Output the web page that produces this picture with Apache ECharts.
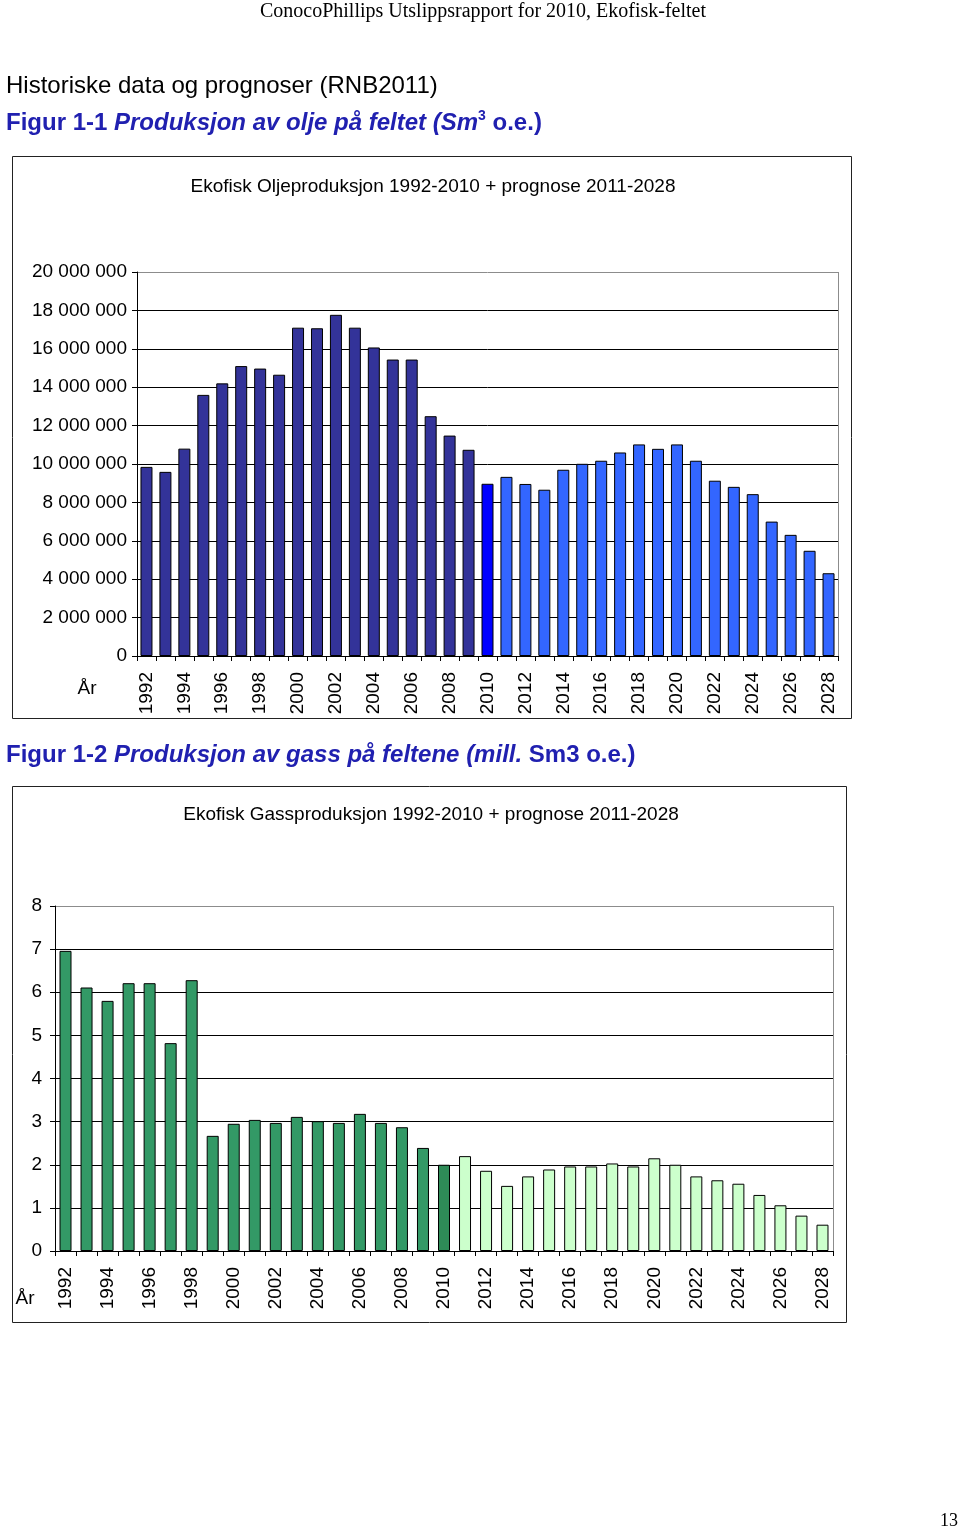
<!DOCTYPE html>
<html>
<head>
<meta charset="utf-8">
<script src="https://cdn.jsdelivr.net/npm/echarts@6/dist/echarts.min.js"></script>
<style>
html,body{margin:0;padding:0;background:#fff;}
#c{width:960px;height:1530px;}
</style>
</head>
<body>
<div id="c"></div>
<script>
// ---- data ----
const years = ['1992','1993','1994','1995','1996','1997','1998','1999','2000','2001','2002','2003','2004','2005','2006','2007','2008','2009','2010',
  '2011','2012','2013','2014','2015','2016','2017','2018','2019','2020','2021','2022','2023','2024','2025','2026','2027','2028'];
const currentYear = '2010';
// Oil production, Sm3 o.e.
const oilProduction = [9850000, 9590000, 10800000, 13600000, 14200000, 15100000, 14970000, 14650000, 17100000, 17070000,
  17770000, 17100000, 16070000, 15440000, 15440000, 12490000, 11480000, 10740000, 8970000,
  9330000, 8960000, 8660000, 9700000, 10010000, 10170000, 10600000, 11020000, 10790000, 11020000,
  10170000, 9130000, 8810000, 8430000, 7000000, 6310000, 5480000, 4310000];
// Gas production, mill. Sm3 o.e.
const gasProduction = [6.96, 6.11, 5.80, 6.21, 6.21, 4.82, 6.28, 2.67, 2.95, 3.04, 2.97, 3.11, 3.01, 2.97, 3.18, 2.97, 2.87, 2.39, 2.00,
  2.20, 1.86, 1.51, 1.73, 1.89, 1.96, 1.96, 2.03, 1.96, 2.15, 2.00, 1.73, 1.64, 1.56, 1.30, 1.06, 0.82, 0.61];
const oilAxis = {min: 0, max: 20000000, interval: 2000000};
const gasAxis = {min: 0, max: 8, interval: 1};

const pageHeader = 'ConocoPhillips Utslippsrapport for 2010, Ekofisk-feltet';
const sectionTitle = 'Historiske data og prognoser (RNB2011)';
const oilChartTitle = 'Ekofisk Oljeproduksjon 1992-2010 + prognose 2011-2028';
const gasChartTitle = 'Ekofisk Gassproduksjon 1992-2010 + prognose 2011-2028';
const axisYearName = 'År';
const pageNumber = '13';

// ---- styling ----
const SANS = '"Liberation Sans", Arial, Helvetica, sans-serif';
const SERIF = '"Liberation Serif", "Times New Roman", serif';
const HEAD_BLUE = '#2020b0';
const oilColors = {hist: '#333399', cur: '#0000ff', fc: '#3366ff'};
const gasColors = {hist: '#339966', cur: '#2e8b57', fc: '#ccffcc'};

function pick(year, c) {
  if (year < currentYear) return c.hist;
  if (year === currentYear) return c.cur;
  return c.fc;
}
function spaced(v) {
  return String(Math.round(v)).replace(/\B(?=(\d{3})+(?!\d))/g, ' ');
}
function gridColors(ax) {
  const n = Math.round((ax.max - ax.min) / ax.interval) + 1;
  const arr = [];
  for (let i = 0; i < n; i++) arr.push(i === n - 1 ? '#8c8c8c' : '#000');
  return arr;
}
function xAxisCfg(gi) {
  return {
    gridIndex: gi, type: 'category', data: years, boundaryGap: true,
    axisLine: {show: true, lineStyle: {color: '#000', width: 1}},
    axisTick: {show: true, interval: 0, length: 5, lineStyle: {color: '#000'}},
    axisLabel: {interval: 1, rotate: 90, margin: 16, fontSize: 19, color: '#000', fontFamily: SANS}
  };
}
function yAxisCfg(gi, ax, fmt, margin) {
  return {
    gridIndex: gi, type: 'value', min: ax.min, max: ax.max, interval: ax.interval,
    axisLine: {show: true, lineStyle: {color: '#000', width: 1}},
    axisTick: {show: true, length: 5, lineStyle: {color: '#000'}},
    axisLabel: {formatter: fmt, fontSize: 19, margin: margin, color: '#000', fontFamily: SANS},
    splitLine: {show: true, lineStyle: {color: gridColors(ax), width: 1}}
  };
}

const chart = echarts.init(document.getElementById('c'), null, {renderer: 'canvas'});
const option = {
  animation: false,
  backgroundColor: '#fff',
  grid: [
    {left: 137, top: 272, width: 701, height: 384, containLabel: false},
    {left: 55, top: 906, width: 778, height: 345, containLabel: false}
  ],
  xAxis: [xAxisCfg(0), xAxisCfg(1)],
  yAxis: [
    yAxisCfg(0, oilAxis, v => spaced(v), 10),
    yAxisCfg(1, gasAxis, v => String(v), 13)
  ],
  series: [
    {
      type: 'bar', xAxisIndex: 0, yAxisIndex: 0, barWidth: 12,
      itemStyle: {borderColor: '#000', borderWidth: 1},
      data: oilProduction.map((v, i) => ({value: v, itemStyle: {color: pick(years[i], oilColors)}}))
    },
    {
      type: 'bar', xAxisIndex: 1, yAxisIndex: 1, barWidth: 12,
      itemStyle: {borderColor: '#000', borderWidth: 1},
      data: gasProduction.map((v, i) => ({value: v, itemStyle: {color: pick(years[i], gasColors)}}))
    }
  ],
  graphic: [
    {type: 'rect', shape: {x: 12.5, y: 156.5, width: 839, height: 562}, style: {fill: 'none', stroke: '#222', lineWidth: 1}, z: 1},
    {type: 'rect', shape: {x: 12.5, y: 786.5, width: 834, height: 536}, style: {fill: 'none', stroke: '#222', lineWidth: 1}, z: 1},
    {type: 'line', shape: {x1: 838.5, y1: 272, x2: 838.5, y2: 656}, style: {stroke: '#8c8c8c', lineWidth: 1}, z: 1},
    {type: 'line', shape: {x1: 833.5, y1: 906, x2: 833.5, y2: 1251}, style: {stroke: '#8c8c8c', lineWidth: 1}, z: 1},
    {type: 'text', x: 483, y: 12, style: {text: pageHeader, font: '20px ' + SERIF, fill: '#000', align: 'center', verticalAlign: 'middle'}},
    {type: 'text', x: 6, y: 86, style: {text: sectionTitle, font: '24px ' + SANS, fill: '#000', align: 'left', verticalAlign: 'middle'}},
    {type: 'text', x: 6, y: 123, style: {
      text: '{a|Figur 1-1 }{b|Produksjon av olje på feltet (Sm}{s|3}{a| o.e.)}',
      align: 'left', verticalAlign: 'middle',
      rich: {
        a: {fontFamily: SANS, fontSize: 24, fontWeight: 'bold', fill: HEAD_BLUE, lineHeight: 28},
        b: {fontFamily: SANS, fontSize: 24, fontWeight: 'bold', fontStyle: 'italic', fill: HEAD_BLUE, lineHeight: 28},
        s: {fontFamily: SANS, fontSize: 14, fontWeight: 'bold', fill: HEAD_BLUE, lineHeight: 28, verticalAlign: 'top'}
      }
    }},
    {type: 'text', x: 433, y: 187, style: {text: oilChartTitle, font: '19px ' + SANS, fill: '#000', align: 'center', verticalAlign: 'middle'}},
    {type: 'text', x: 87, y: 689, style: {text: axisYearName, font: '19px ' + SANS, fill: '#000', align: 'center', verticalAlign: 'middle'}},
    {type: 'text', x: 6, y: 755, style: {
      text: '{a|Figur 1-2 }{b|Produksjon av gass på feltene (mill.}{a| Sm3 o.e.)}',
      align: 'left', verticalAlign: 'middle',
      rich: {
        a: {fontFamily: SANS, fontSize: 24, fontWeight: 'bold', fill: HEAD_BLUE},
        b: {fontFamily: SANS, fontSize: 24, fontWeight: 'bold', fontStyle: 'italic', fill: HEAD_BLUE}
      }
    }},
    {type: 'text', x: 431, y: 815, style: {text: gasChartTitle, font: '19px ' + SANS, fill: '#000', align: 'center', verticalAlign: 'middle'}},
    {type: 'text', x: 25, y: 1299, style: {text: axisYearName, font: '19px ' + SANS, fill: '#000', align: 'center', verticalAlign: 'middle'}},
    {type: 'text', x: 949, y: 1521, style: {text: pageNumber, font: '18px ' + SERIF, fill: '#000', align: 'center', verticalAlign: 'middle'}}
  ]
};
chart.setOption(option);
</script>
</body>
</html>
